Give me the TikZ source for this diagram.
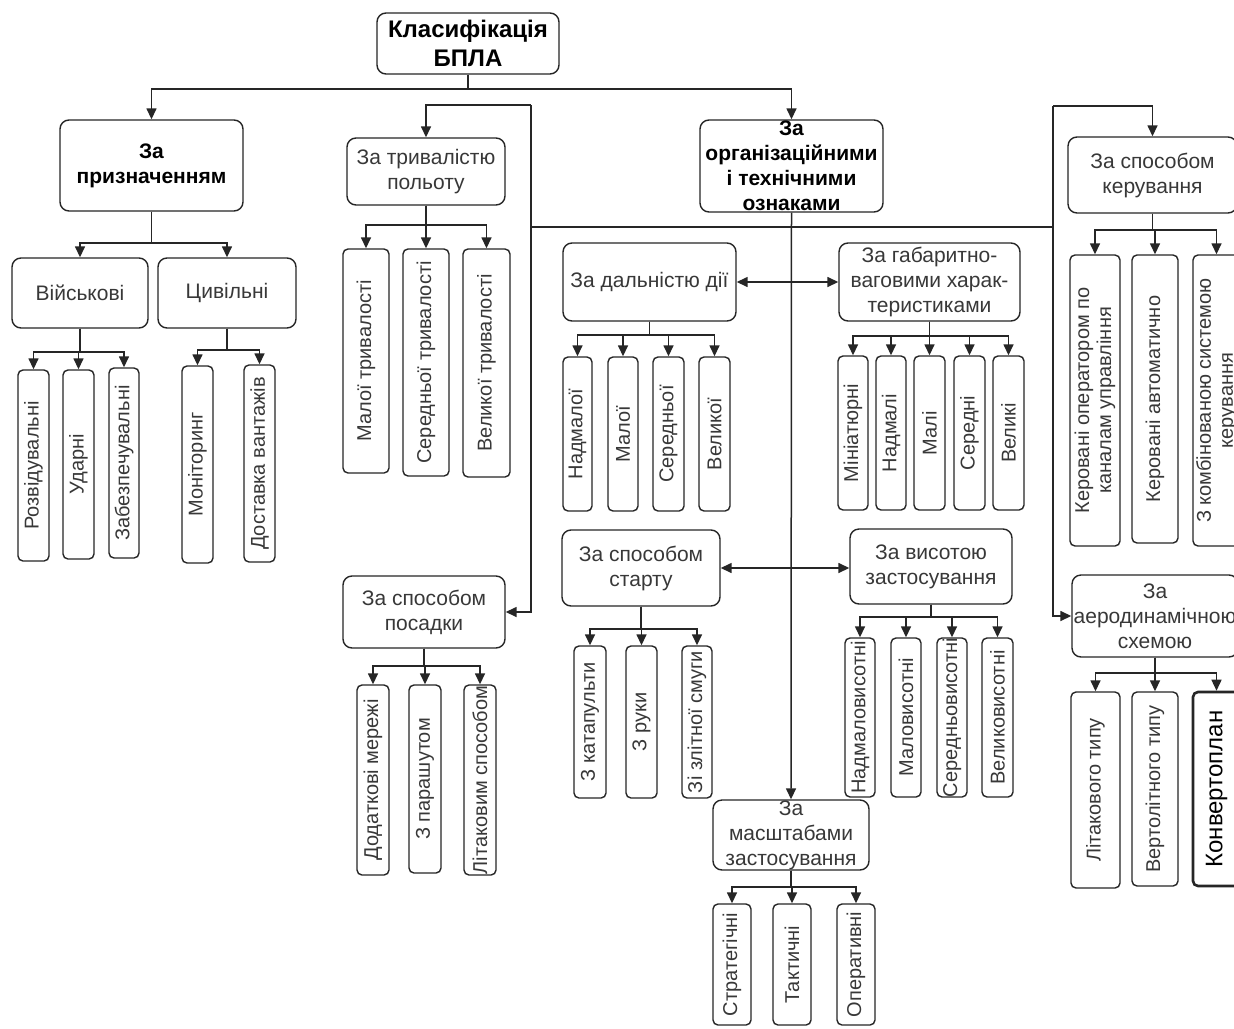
\documentclass[tikz,border=0pt]{standalone}
\usepackage{fontspec}
\setmainfont{Liberation Sans}
\usetikzlibrary{arrows.meta}
\definecolor{ink}{HTML}{262626}
\definecolor{txt}{HTML}{383838}
\tikzset{
  bx/.style={draw=ink, line width=1.4pt, rounded corners=9pt, align=center, inner sep=0pt, text=txt, font=\fontsize{21}{25}\selectfont},
  bld/.style={font=\bfseries\fontsize{21}{25}\selectfont, text=black},
  vb/.style={draw=ink, line width=1.4pt, rounded corners=5pt, align=center, inner sep=0pt, text=txt, rotate=90, font=\fontsize{20}{22}\selectfont},
  ln/.style={draw=ink, line width=1.5pt},
  arr/.style={ln, -{Triangle[length=11pt,width=10pt]}},
  darr/.style={ln, {Triangle[length=11pt,width=10pt]}-{Triangle[length=11pt,width=10pt]}},
}
\newcommand{\BoxH}[7][]{\node[bx,minimum width={#5-#3},minimum height={#6-#4},#1] (#2) at ({(#3+#5)/2},{(#4+#6)/2}) {#7};}
\newcommand{\BoxV}[7][]{\node[vb,minimum width={#6-#4},minimum height={#5-#3},#1] (#2) at ({(#3+#5)/2},{(#4+#6)/2}) {#7};}
\newcommand{\KidV}[3]{\draw[arr] (#1.south) -- (#1.south |- 0,#3) -| (#2.east);}
\newcommand{\KidH}[3]{\draw[arr] (#1.south) -- (#1.south |- 0,#3) -| (#2.north);}
\begin{document}
\begin{tikzpicture}[x=1pt,y=-1pt]
\fill[white] (0,0) rectangle (1234,1028);
\useasboundingbox (0,0) rectangle (1234,1028);

% top level
\BoxH[bld,font=\bfseries\fontsize{24}{29}\selectfont]{root}{377}{13}{559}{74}{Класифікація\\БПЛА}
\BoxH[bld]{prizn}{60}{120}{243}{211}{За\\призначенням}
\BoxH{tryv}{347}{138}{505}{205}{За тривалістю\\польоту}
\BoxH[bld,font=\bfseries\fontsize{21}{25}\selectfont]{org}{700}{120}{883}{212}{За\\організаційними\\і технічними\\ознаками}
\BoxH{keruv}{1068}{137}{1237}{213}{За способом\\керування}

% За призначенням
\BoxH{viysk}{12}{258}{148}{328}{Військові}
\BoxH{tsyv}{158}{258}{296}{328}{Цивільні}
\BoxV{rozv}{18}{370}{49}{561}{Розвідувальні}
\BoxV{udar}{63}{370}{94}{559}{Ударні}
\BoxV{zabez}{109}{368}{139}{558}{Забезпечувальні}
\BoxV{monit}{182}{366}{213}{563}{Моніторинг}
\BoxV{dost}{244}{365}{275}{562}{Доставка вантажів}

% За тривалістю
\BoxV{tmal}{343}{249}{389}{473}{Малої тривалості}
\BoxV{tser}{403}{249}{449}{476}{Середньої тривалості}
\BoxV{tvel}{463}{249}{510}{477}{Великої тривалості}

% За дальністю
\BoxH{dal}{563}{243}{736}{321}{За дальністю дії}
\BoxV{dnad}{563}{357}{592}{511}{Надмалої}
\BoxV{dmal}{608}{357}{638}{511}{Малої}
\BoxV{dser}{653}{357}{684}{511}{Середньої}
\BoxV{dvel}{699}{357}{730}{511}{Великої}

% За габаритно-ваговими
\BoxH{gab}{839}{243}{1020}{321}{За габаритно-\\ваговими харак-\\теристиками}
\BoxV{gmin}{838}{356}{868}{510}{Мініатюрні}
\BoxV{gnad}{876}{356}{906}{510}{Надмалі}
\BoxV{gmal}{914}{356}{945}{510}{Малі}
\BoxV{gser}{954}{356}{985}{510}{Середні}
\BoxV{gvel}{993}{356}{1024}{510}{Великі}

% За способом керування
\BoxV{kop}{1070}{255}{1120}{546}{Керовані оператором по\\каналам управління}
\BoxV{kavt}{1132}{255}{1178}{543}{Керовані автоматично}
\BoxV{kkomb}{1193}{255}{1240}{546}{З комбінованою системою\\керування}

% За способом посадки
\BoxH{pos}{343}{576}{505}{648}{За способом\\посадки}
\BoxV{pmer}{357}{685}{389}{875}{Додаткові мережі}
\BoxV{ppar}{409}{685}{441}{873}{З парашутом}
\BoxV{plit}{464}{685}{496}{875}{Літаковим способом}

% За способом старту
\BoxH{start}{562}{530}{720}{606}{За способом\\старту}
\BoxV{skat}{574}{646}{606}{798}{З катапульти}
\BoxV{sruk}{626}{646}{657}{798}{З руки}
\BoxV{szlit}{682}{646}{712}{798}{Зі злітної смуги}

% За висотою
\BoxH{vys}{850}{529}{1012}{604}{За висотою\\застосування}
\BoxV{vnad}{845}{638}{875}{797}{Надмаловисотні}
\BoxV{vmal}{891}{638}{921}{797}{Маловисотні}
\BoxV{vser}{937}{638}{967}{797}{Середньовисотні}
\BoxV{vvel}{982}{638}{1013}{797}{Великовисотні}

% За масштабами
\BoxH{mas}{713}{800}{869}{870}{За\\масштабами\\застосування}
\BoxV{mstr}{713}{904}{751}{1025}{Стратегічні}
\BoxV{mtak}{773}{904}{811}{1025}{Тактичні}
\BoxV{mop}{837}{904}{875}{1025}{Оперативні}

% За аеродинамічною схемою
\BoxH{aero}{1072}{575}{1238}{657}{За\\аеродинамічною\\схемою}
\BoxV{alit}{1071}{692}{1120}{888}{Літакового типу}
\BoxV{avert}{1132}{692}{1178}{886}{Вертолітного типу}
\BoxV[line width=2.6pt,text=black,font=\fontsize{24}{26}\selectfont]{akonv}{1193}{692}{1240}{886}{Конвертоплан}

% main connectors
\coordinate (tl) at (531,105);
\coordinate (tr) at (1053,106);
\coordinate (hl) at (531,227);
\coordinate (hr) at (1053,227);
\draw[arr] (root.south) -- (root.south |- 0,89) -| (prizn.north);
\draw[arr] (root.south |- 0,89) -| (org.north);
\draw[arr] (org.south) -- (mas.north);
\draw[ln] (hl) -- (hr);
\draw[arr] (tl) -| (tryv.north);
\draw[arr] (tl) |- (pos.east);
\draw[arr] (tr) -| (keruv.north);
\draw[arr] (tr) |- (aero.west);
\draw[darr] (dal.east) -- (gab.west);
\draw[darr] (start.east) -- (start.east -| vys.west);

% children
\KidH{prizn}{viysk}{243}
\KidH{prizn}{tsyv}{243}
\KidV{viysk}{rozv}{352}
\KidV{viysk}{udar}{352}
\KidV{viysk}{zabez}{352}
\KidV{tsyv}{monit}{350}
\KidV{tsyv}{dost}{350}
\KidV{tryv}{tmal}{225}
\KidV{tryv}{tser}{225}
\KidV{tryv}{tvel}{225}
\KidV{dal}{dnad}{335}
\KidV{dal}{dmal}{335}
\KidV{dal}{dser}{335}
\KidV{dal}{dvel}{335}
\KidV{gab}{gmin}{336}
\KidV{gab}{gnad}{336}
\KidV{gab}{gmal}{336}
\KidV{gab}{gser}{336}
\KidV{gab}{gvel}{336}
\KidV{keruv}{kop}{230}
\KidV{keruv}{kavt}{230}
\KidV{keruv}{kkomb}{230}
\KidV{pos}{pmer}{666}
\KidV{pos}{ppar}{666}
\KidV{pos}{plit}{666}
\KidV{start}{skat}{629}
\KidV{start}{sruk}{629}
\KidV{start}{szlit}{629}
\KidV{vys}{vnad}{617}
\KidV{vys}{vmal}{617}
\KidV{vys}{vser}{617}
\KidV{vys}{vvel}{617}
\KidV{mas}{mstr}{887}
\KidV{mas}{mtak}{887}
\KidV{mas}{mop}{887}
\KidV{aero}{alit}{673}
\KidV{aero}{avert}{673}
\KidV{aero}{akonv}{673}
\end{tikzpicture}
\end{document}
